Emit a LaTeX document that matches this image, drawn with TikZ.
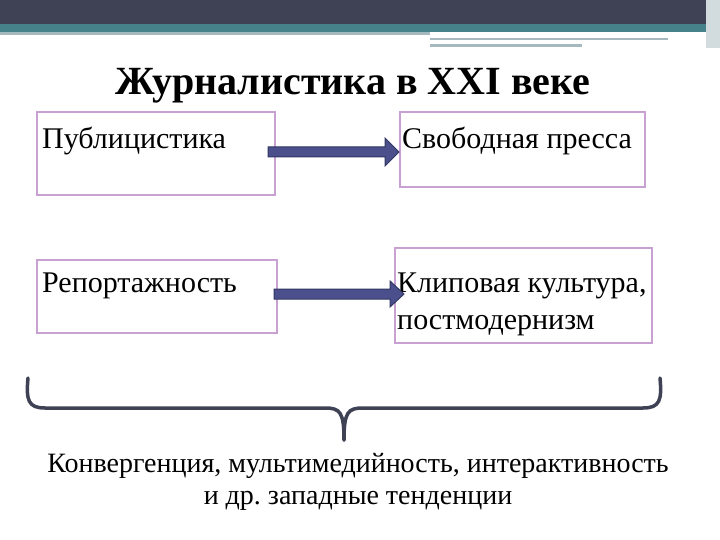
\documentclass[tikz,border=0pt]{standalone}
\usepackage{fontspec}
\setmainfont{Liberation Serif}
\frenchspacing
\begin{document}
\begin{tikzpicture}[x=1pt,y=-1pt,
 box/.style={draw=boxpink,line width=2.5pt,inner sep=0pt},
 txt/.style={anchor=north west,font=\fontsize{30}{37}\selectfont,align=left,inner sep=0pt},
 fat/.style={draw=arrowedge,fill=arrowfill,line width=1pt}]
\definecolor{boxpink}{RGB}{200,160,210}
\definecolor{arrowfill}{RGB}{75,80,140}
\definecolor{arrowedge}{RGB}{50,55,100}
\definecolor{darkband}{RGB}{62,66,84}
\definecolor{tealband}{RGB}{70,130,138}
\definecolor{lightline}{RGB}{165,185,190}
\useasboundingbox (0,0) rectangle (720,540);
\fill[white] (0,0) rectangle (720,540);
\fill[darkband] (0,0) rectangle (720,24);
\fill[tealband] (0,24) rectangle (720,32);
\fill[lightline] (0,32) rectangle (430,35);
\fill[lightline] (430,38) rectangle (668,40);
\fill[lightline] (430,44) rectangle (582,47);
\fill[lightline!50] (706,0) rectangle (720,48);
\node[font=\bfseries\fontsize{40}{46}\selectfont] (title) at (353,86) {Журналистика в XXI веке};
\draw[box] (37,112) rectangle (275,195);
\draw[box] (400,112) rectangle (645,187);
\draw[box] (37,260) rectangle (277,333);
\draw[box] (395,248) rectangle (652,343);
\node[txt] (a) at (42,127) {Публицистика};
\node[txt] (b) at (402,127) {Свободная пресса};
\node[txt] (c) at (42,273) {Репортажность};
\node[txt] (d) at (397,273) {Клиповая культура,\\постмодернизм};
\draw[fat] (268,147) -- (385,147) -- (385,138) -- (399,152) -- (385,166) -- (385,157) -- (268,157) -- cycle;
\draw[fat] (274,289) -- (390,289) -- (390,281) -- (404,294) -- (390,307) -- (390,299) -- (274,299) -- cycle;
\draw[line width=3.5pt,line cap=round,darkband] (28,378) .. controls (26,400) and (28,408) .. (45,408) -- (325,408) .. controls (340,408) and (344,412) .. (344,440);
\draw[line width=3.5pt,line cap=round,darkband] (660,378) .. controls (662,400) and (660,408) .. (643,408) -- (363,408) .. controls (348,408) and (344,412) .. (344,440);
\node[font=\fontsize{28}{32}\selectfont,align=center] (e) at (358,482) {Конвергенция, мультимедийность, интерактивность\\и др. западные тенденции};
\end{tikzpicture}
\end{document}
